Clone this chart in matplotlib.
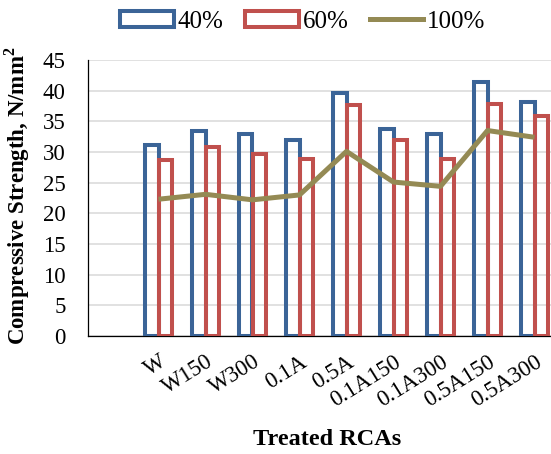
import matplotlib
matplotlib.use("Agg")
import matplotlib.pyplot as plt
import numpy as np
from matplotlib.patches import Patch
from matplotlib.lines import Line2D

categories = ["W", "W150", "W300", "0.1A", "0.5A", "0.1A150", "0.1A300", "0.5A150", "0.5A300"]
s40 = [31.1, 33.4, 33.0, 31.9, 39.7, 33.8, 33.0, 41.4, 38.1]
s60 = [28.7, 30.8, 29.6, 28.9, 37.6, 31.9, 28.8, 37.8, 35.9]
s100 = [22.3, 23.1, 22.2, 23.0, 30.1, 25.1, 24.4, 33.5, 32.4]
series_names = ["40%", "60%", "100%"]
yticks = list(range(0, 50, 5))

blue = "#3B6497"
red = "#C0504D"
olive = "#948A54"

plt.rcParams['font.family'] = ['Liberation Serif', 'DejaVu Serif']

fig = plt.figure(figsize=(5.51, 4.54), dpi=100)
W, H = 551, 454
left, right, bottom, top = 88, 558, 336, 60
ax = fig.add_axes([left / W, 1 - bottom / H, (right - left) / W, (bottom - top) / H])

x = np.arange(len(categories))
w = 0.28
lw_bar = 2.9
ax.bar(x - w / 2, s40, w, fill=False, edgecolor=blue, linewidth=lw_bar, zorder=3)
ax.bar(x + w / 2, s60, w, fill=False, edgecolor=red, linewidth=lw_bar, zorder=3)
ax.plot(x, s100, color=olive, linewidth=3.6, zorder=4, solid_capstyle='butt')

ax.set_xlim(-1.5, 8.5)
ax.set_ylim(0, 45)
ax.set_yticks(yticks)
ax.set_yticklabels([str(t) for t in yticks], fontsize=16.5)
ax.set_xticks(x)
ax.set_xticklabels(categories, fontsize=16.5, rotation=32, ha='right', va='top',
                   rotation_mode='anchor')
ax.tick_params(axis='y', length=0, pad=16)
ax.tick_params(axis='x', length=0, pad=11)

ax.yaxis.grid(True, color='#D9D9D9', linewidth=1.1, zorder=0)
ax.set_axisbelow(True)
for s in ['top', 'right']:
    ax.spines[s].set_visible(False)
for s in ['left', 'bottom']:
    ax.spines[s].set_color('black')
    ax.spines[s].set_linewidth(0.9)
ax.spines['bottom'].set_zorder(2)

ax.set_ylabel("Compressive Strength, N/mm$^\\mathregular{2}$", fontsize=16.5, fontweight='bold')
ax.yaxis.set_label_coords(-0.119, 0.507)
ax.set_xlabel("Treated RCAs", fontsize=17.5, fontweight='bold')
ax.xaxis.set_label_coords(0.509, -0.337)

handles = [
    Patch(facecolor='white', edgecolor=blue, linewidth=lw_bar),
    Patch(facecolor='white', edgecolor=red, linewidth=lw_bar),
    Line2D([0], [0], color=olive, linewidth=3.6),
]
fig.legend(handles, series_names, loc='center', bbox_to_anchor=(303 / W, 1 - 21.5 / H),
           ncol=3, frameon=False, fontsize=18, handlelength=2.15, handleheight=0.6,
           handletextpad=0.15, columnspacing=0.85, borderpad=0, borderaxespad=0)

fig.savefig("out.png", dpi=100)
